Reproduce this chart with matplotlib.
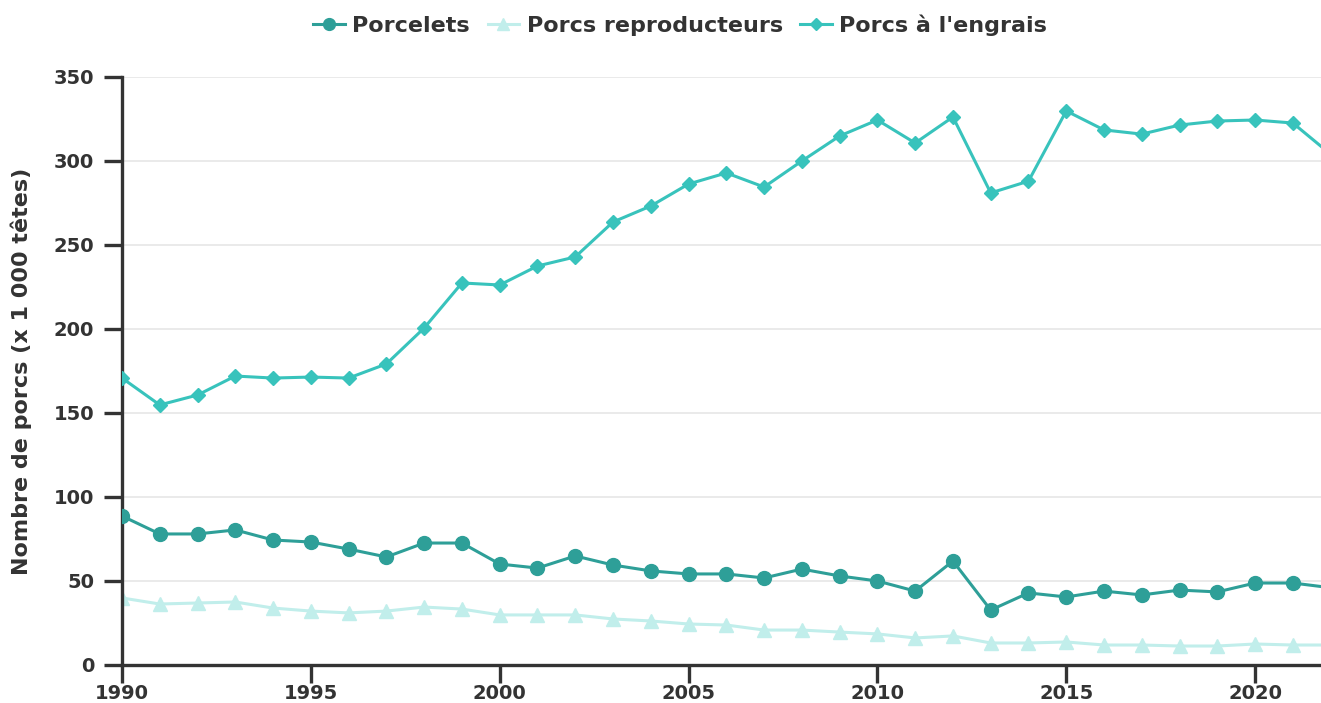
import matplotlib
matplotlib.use('Agg')
import matplotlib.pyplot as plt

# data (x 1 000 têtes)
years = list(range(1990, 2023))
porcelets = [88.7, 78.0, 78.0, 80.4, 74.4, 73.2, 69.0, 64.3, 72.6, 72.6,
             60.1, 57.7, 64.9, 59.5, 56.0, 54.2, 54.2, 51.8, 57.1, 53.0,
             50.0, 44.0, 61.9, 32.7, 42.9, 40.5, 44.0, 41.7, 44.6, 43.5,
             48.8, 48.8, 46.0]
reproducteurs = [39.9, 36.3, 36.9, 37.5, 33.9, 32.1, 31.0, 32.1, 34.5, 33.3,
                 29.8, 29.8, 29.8, 27.4, 26.2, 24.4, 23.8, 20.8, 20.8, 19.6,
                 18.5, 16.1, 17.3, 13.1, 13.1, 13.7, 11.9, 11.9, 11.3, 11.3,
                 12.5, 11.9, 11.9]
engrais = [170.8, 154.8, 160.7, 172.0, 170.8, 171.4, 170.8, 179.2, 200.6, 227.4,
           226.2, 237.5, 242.9, 263.7, 273.2, 286.3, 292.9, 284.5, 300.0, 314.9,
           324.4, 310.7, 326.2, 281.0, 288.0, 329.8, 318.5, 316.0, 321.4, 323.8,
           324.4, 322.6, 304.0]

c_porcelets = '#2e9f98'
c_repro = '#c1eeeb'
c_engrais = '#38c3bc'
dark = '#333333'

plt.rcParams['font.family'] = ['DejaVu Sans']

fig = plt.figure(figsize=(13.21, 7.03), dpi=100)
ax = fig.add_axes([122 / 1321, 38 / 703, 1 - 122 / 1321, 588 / 703])

ax.plot(years, porcelets, color=c_porcelets, lw=2.2, marker='o', ms=10,
        label='Porcelets', zorder=3)
ax.plot(years, reproducteurs, color=c_repro, lw=2.2, marker='^', ms=9.5,
        label='Porcs reproducteurs', zorder=2)
ax.plot(years, engrais, color=c_engrais, lw=2.2, marker='D', ms=7.5,
        label="Porcs à l'engrais", zorder=3)

ax.set_xlim(1990, 1990 + 1199 / 37.77)
ax.set_ylim(0, 350)
ax.set_xticks(range(1990, 2021, 5))
ax.set_yticks(range(0, 351, 50))
ax.grid(axis='y', color='#e6e6e6', lw=1.2)
ax.set_axisbelow(True)

for s in ['top', 'right']:
    ax.spines[s].set_visible(False)
for s in ['left', 'bottom']:
    ax.spines[s].set_color(dark)
    ax.spines[s].set_linewidth(2.4)

ax.tick_params(axis='both', colors=dark, width=2.4, length=13, labelsize=14)
ax.tick_params(axis='y', pad=7)
ax.tick_params(axis='x', pad=1)
for lab in ax.get_xticklabels() + ax.get_yticklabels():
    lab.set_fontweight('bold')

ax.set_ylabel('Nombre de porcs (x 1 000 têtes)', fontsize=16, fontweight='bold',
              color=dark)
ax.yaxis.set_label_coords(-0.075, 0.5)

leg = fig.legend(loc='center', bbox_to_anchor=(0.515, 1 - 25 / 703), ncol=3,
                 frameon=False, prop={'weight': 'bold', 'size': 16},
                 handlelength=1.4, handletextpad=0.35, columnspacing=0.8,
                 markerscale=0.85)
for t in leg.get_texts():
    t.set_color(dark)

fig.savefig('out.png', dpi=100)
